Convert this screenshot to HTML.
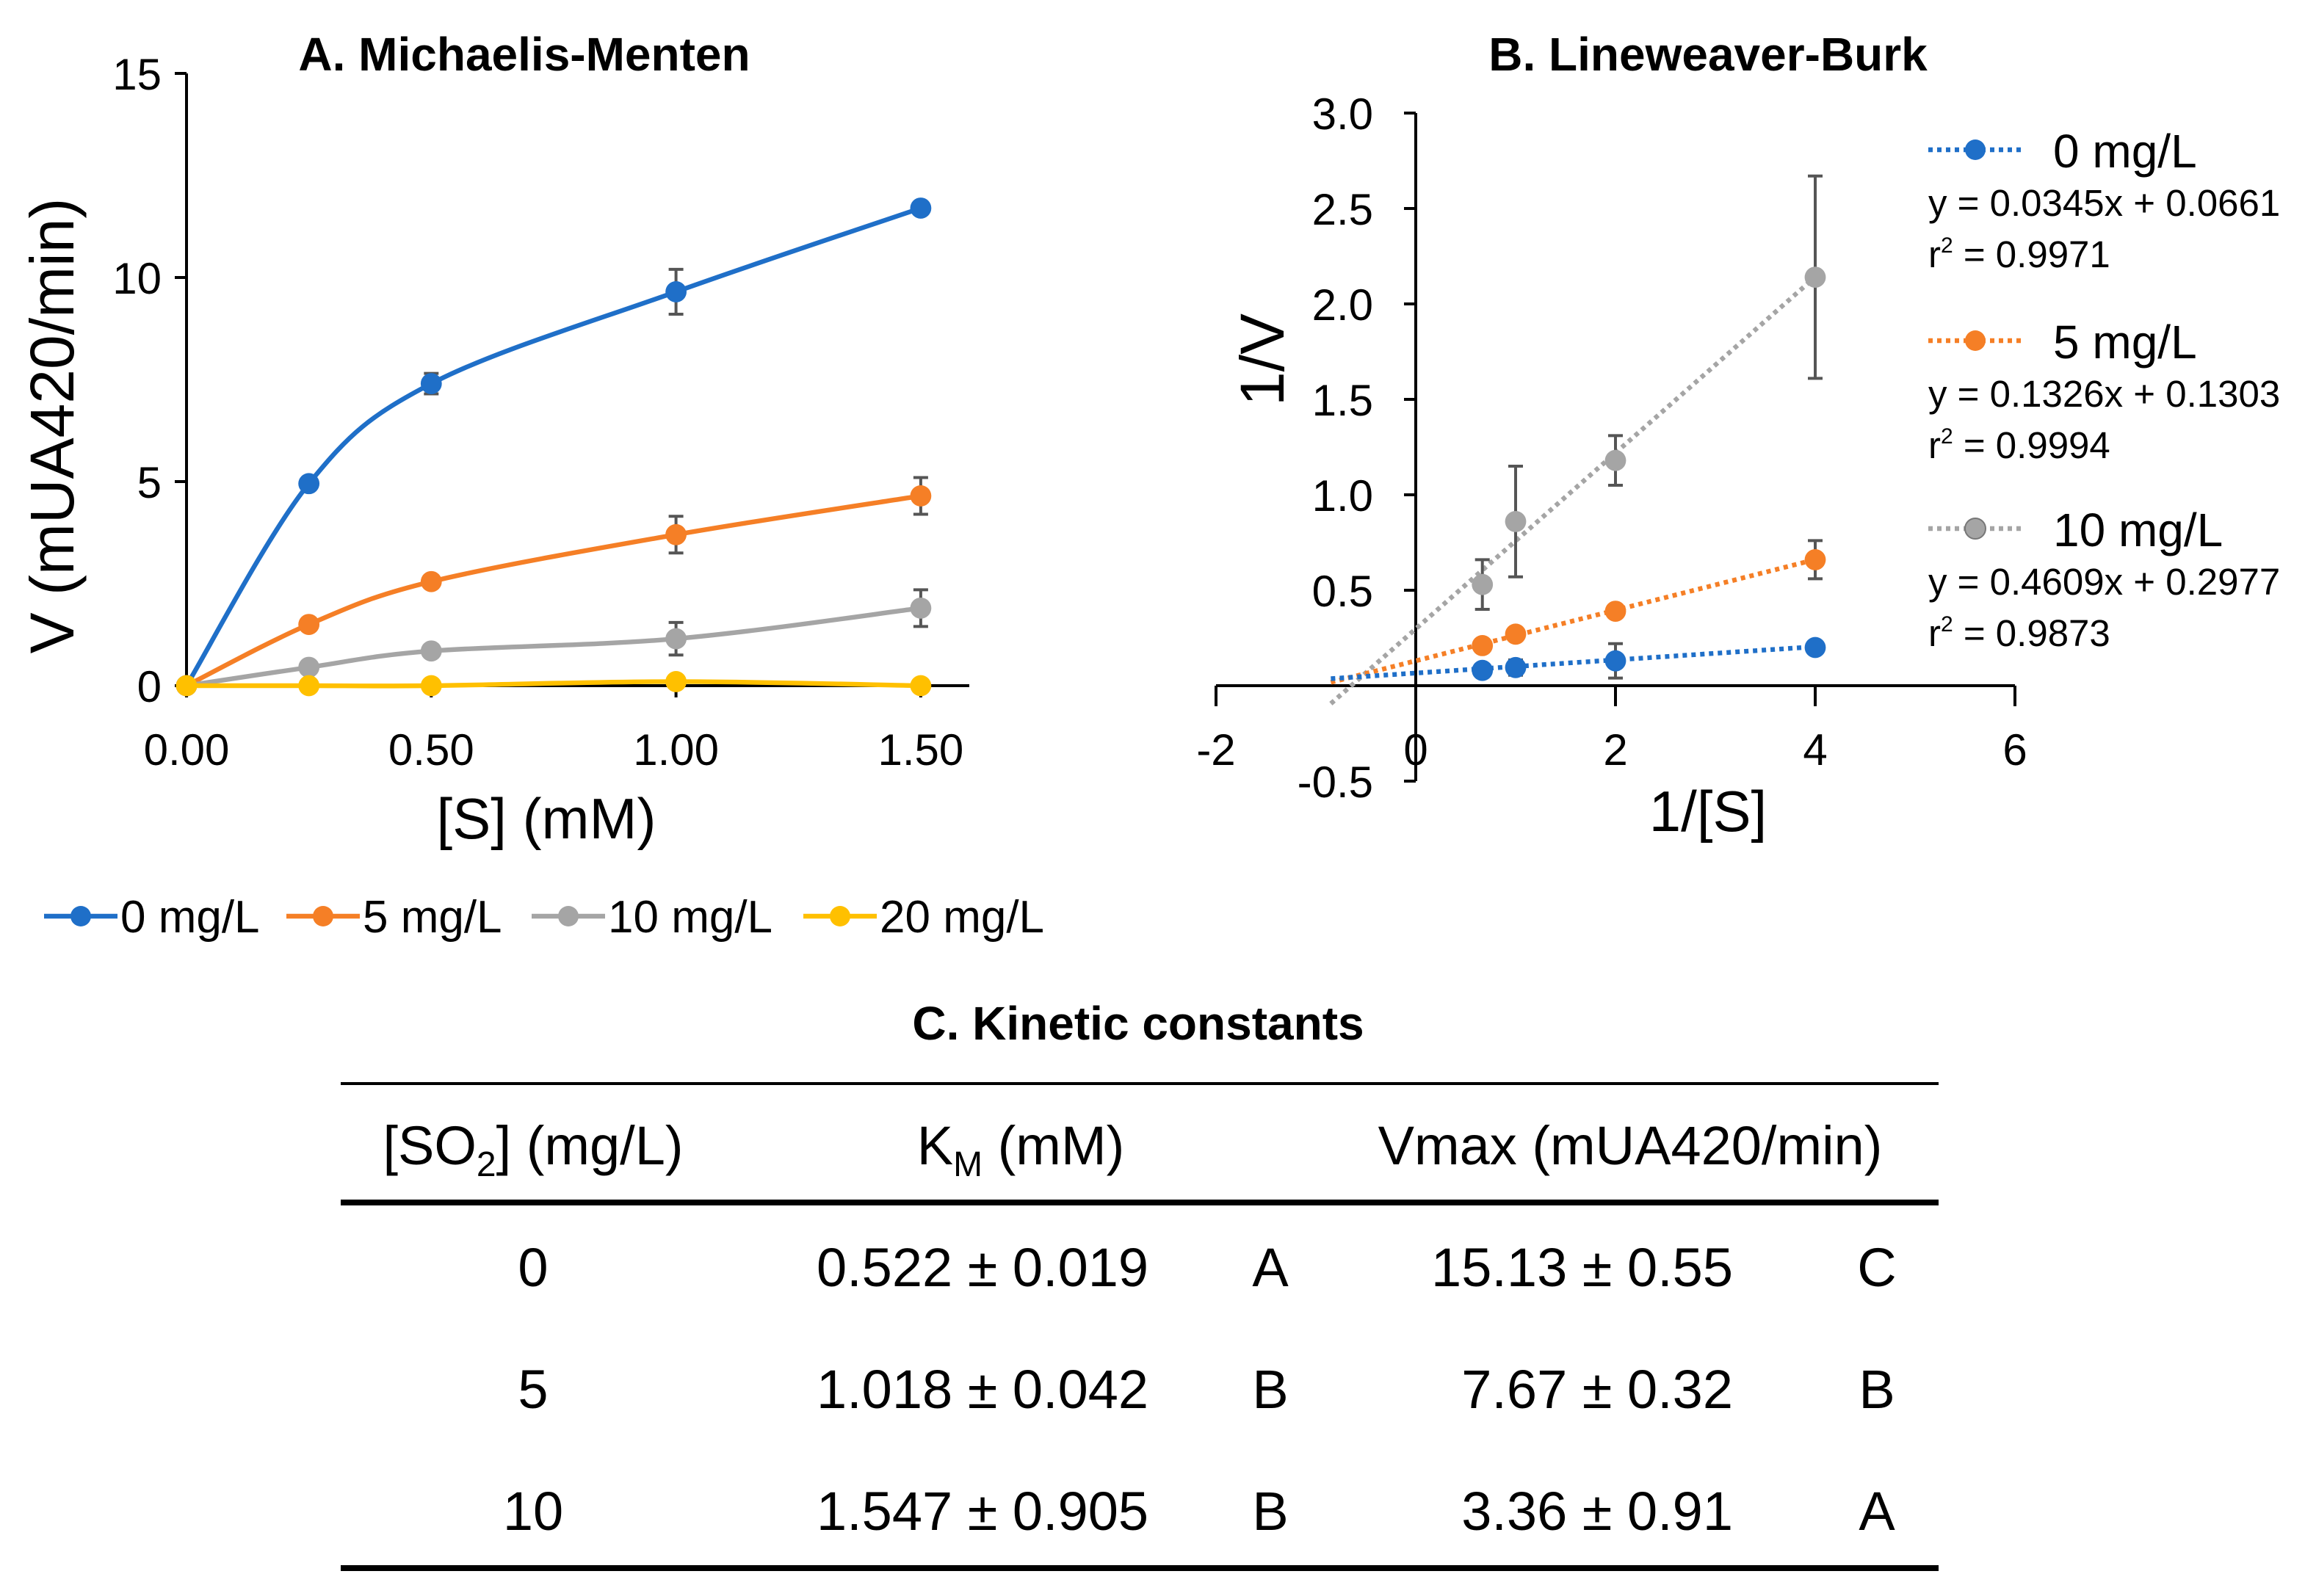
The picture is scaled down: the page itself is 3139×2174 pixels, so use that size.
<!DOCTYPE html>
<html><head><meta charset="utf-8"><style>
html,body{margin:0;padding:0;background:#fff}
svg{display:block}
text{font-family:"Liberation Sans",sans-serif;fill:#000}
</style></head><body>
<svg id="fig" width="3139" height="2174" viewBox="0 0 1569.5 1087" xmlns="http://www.w3.org/2000/svg">
<g id="chartA"></g>
<g id="chartB"></g>
<g id="table">
<text x="775" y="708" font-size="32" font-weight="bold" text-anchor="middle">C. Kinetic constants</text>
<line x1="232" x2="1320" y1="738" y2="738" stroke="#000" stroke-width="2"/>
<line x1="232" x2="1320" y1="819" y2="819" stroke="#000" stroke-width="4"/>
<line x1="232" x2="1320" y1="1068" y2="1068" stroke="#000" stroke-width="4"/>
<g font-size="37">
<text x="363" y="793" text-anchor="middle">[SO<tspan font-size="24" dy="8">2</tspan><tspan dy="-8">] (mg/L)</tspan></text>
<text x="695" y="793" text-anchor="middle">K<tspan font-size="24" dy="8">M</tspan><tspan dy="-8"> (mM)</tspan></text>
<text x="1110" y="793" text-anchor="middle">Vmax (mUA420/min)</text>
<text x="363" y="876" text-anchor="middle">0</text>
<text x="669" y="876" text-anchor="middle">0.522 ± 0.019</text>
<text x="865" y="876" text-anchor="middle">A</text>
<text x="1180" y="876" text-anchor="end">15.13 ± 0.55</text>
<text x="1278" y="876" text-anchor="middle">C</text>
<text x="363" y="959" text-anchor="middle">5</text>
<text x="669" y="959" text-anchor="middle">1.018 ± 0.042</text>
<text x="865" y="959" text-anchor="middle">B</text>
<text x="1180" y="959" text-anchor="end">7.67 ± 0.32</text>
<text x="1278" y="959" text-anchor="middle">B</text>
<text x="363" y="1042" text-anchor="middle">10</text>
<text x="669" y="1042" text-anchor="middle">1.547 ± 0.905</text>
<text x="865" y="1042" text-anchor="middle">B</text>
<text x="1180" y="1042" text-anchor="end">3.36 ± 0.91</text>
<text x="1278" y="1042" text-anchor="middle">A</text>
</g>
</g>
</svg>
<script>
// Chart A data
const aX = [0, 0.25, 0.5, 1.0, 1.5];
const aSeriesNames = ["0 mg/L", "5 mg/L", "10 mg/L", "20 mg/L"];
const aV0 = [0, 4.95, 7.4, 9.65, 11.7];
const aV5 = [0, 1.5, 2.55, 3.7, 4.65];
const aV10 = [0, 0.45, 0.85, 1.15, 1.9];
const aV20 = [0, 0, 0, 0.1, 0];
const aE0 = [0, 0.1, 0.25, 0.55, 0.1];
const aE5 = [0, 0.1, 0.1, 0.45, 0.45];
const aE10 = [0, 0.1, 0.1, 0.4, 0.45];
const aE20 = [0, 0, 0, 0, 0];
const aYTicks = [0, 5, 10, 15];
const aXTicks = [0, 0.5, 1.0, 1.5];
const aXTickLabels = ["0.00", "0.50", "1.00", "1.50"];
// Chart B data
const bX = [0.667, 1, 2, 4];
const bSeriesNames = ["0 mg/L", "5 mg/L", "10 mg/L"];
const bV0 = [0.08, 0.095, 0.13, 0.2];
const bV5 = [0.21, 0.27, 0.39, 0.66];
const bV10 = [0.53, 0.86, 1.18, 2.14];
const bE0 = [0.02, 0.04, 0.09, 0.02];
const bE5 = [0.02, 0.02, 0.02, 0.1];
const bE10 = [0.13, 0.29, 0.13, 0.53];
const bSlopes = [0.0345, 0.1326, 0.4609];
const bIntercepts = [0.0661, 0.1303, 0.2977];
const bEqLabels = ["y = 0.0345x + 0.0661", "y = 0.1326x + 0.1303", "y = 0.4609x + 0.2977"];
const bR2Labels = ["0.9971", "0.9994", "0.9873"];
const bTrendStart = -0.85;
const bYTicks = [-0.5, 0.5, 1.0, 1.5, 2.0, 2.5, 3.0];
const bXTicks = [-2, 0, 2, 4, 6];

const colors = ["#1f6fc8", "#f57f26", "#a5a5a5", "#ffc000"];
const NS = "http://www.w3.org/2000/svg";
function mk(parent, tag, attrs, txt) {
  const e = document.createElementNS(NS, tag);
  for (const k in attrs) e.setAttribute(k, attrs[k]);
  if (txt !== undefined) e.textContent = txt;
  parent.appendChild(e);
  return e;
}
// ---- Chart A ----
const A = document.getElementById("chartA");
const ax = v => 127 + v * 333.3;
const ay = v => 467 - v * 27.8;
let el;
el = mk(A, "text", {x: 357, y: 48, "font-size": 32, "font-weight": "bold", "text-anchor": "middle"}, "A. Michaelis-Menten");


el = mk(A, "line", {x1: 127, x2: 127, y1: ay(15), y2: ay(0), stroke: "#000", "stroke-width": 2});


el = mk(A, "line", {x1: 127, x2: 660, y1: ay(0), y2: ay(0), stroke: "#000", "stroke-width": 2});


aYTicks.forEach(t => {
  el = mk(A, "line", {x1: 119, x2: 127, y1: ay(t), y2: ay(t), stroke: "#000", "stroke-width": 2});
  
  
  el = mk(A, "text", {x: 110, y: ay(t) + 11, "font-size": 30, "text-anchor": "end"}, String(t));
  
  
});
aXTicks.forEach((t, i) => {
  el = mk(A, "line", {x1: ax(t), x2: ax(t), y1: ay(0), y2: ay(0) + 8, stroke: "#000", "stroke-width": 2});
  
  
  el = mk(A, "text", {x: ax(t), y: 521, "font-size": 30, "text-anchor": "middle"}, aXTickLabels[i]);
  
  
});
el = mk(A, "text", {x: 372, y: 571, "font-size": 39, "text-anchor": "middle"}, "[S] (mM)");


el = mk(A, "text", {x: 0, y: 0, "font-size": 42, "text-anchor": "middle", transform: "translate(50,290) rotate(-90)"}, "V (mUA420/min)");



function smoothPath(pts) {
  let d = "M" + pts[0][0] + "," + pts[0][1];
  for (let i = 0; i < pts.length - 1; i++) {
    const p0 = pts[Math.max(0, i - 1)], p1 = pts[i], p2 = pts[i + 1], p3 = pts[Math.min(pts.length - 1, i + 2)];
    const c1 = [p1[0] + (p2[0] - p0[0]) / 6, p1[1] + (p2[1] - p0[1]) / 6];
    const c2 = [p2[0] - (p3[0] - p1[0]) / 6, p2[1] - (p3[1] - p1[1]) / 6];
    d += " C" + c1 + " " + c2 + " " + p2;
  }
  return d;
}
const aVals = [aV0, aV5, aV10, aV20];
const aErrs = [aE0, aE5, aE10, aE20];
aVals.forEach((vals, s) => {
  const g = mk(A, "g", {});
  
  
  const pts = aX.map((x, i) => [ax(x), ay(vals[i])]);
  el = mk(g, "path", {d: smoothPath(pts), fill: "none", stroke: colors[s], "stroke-width": 3.2});
  
  
  aX.forEach((x, i) => {
    const e = aErrs[s][i];
    if (e > 0.05) {
      el = mk(g, "path", {d: `M${ax(x)},${ay(vals[i] - e)}V${ay(vals[i] + e)}M${ax(x) - 5},${ay(vals[i] - e)}h10M${ax(x) - 5},${ay(vals[i] + e)}h10`, stroke: "#555", "stroke-width": 2, fill: "none"});
      
      
    }
    el = mk(g, "circle", {cx: ax(x), cy: ay(vals[i]), r: 7.2, fill: colors[s]});
    
    
  });
});
const legX = [30, 195, 362, 547];
aSeriesNames.forEach((n, s) => {
  const g = mk(A, "g", {});
  
  
  mk(g, "line", {x1: legX[s], x2: legX[s] + 50, y1: 624, y2: 624, stroke: colors[s], "stroke-width": 3.2});
  mk(g, "circle", {cx: legX[s] + 25, cy: 624, r: 7, fill: colors[s]});
  mk(g, "text", {x: legX[s] + 52, y: 635, "font-size": 31}, n);
});

// ---- Chart B ----
const B = document.getElementById("chartB");
const bx = v => 964 + v * 68;
const by = v => 467 - v * 130;
el = mk(B, "text", {x: 1163, y: 48, "font-size": 32, "font-weight": "bold", "text-anchor": "middle"}, "B. Lineweaver-Burk");


el = mk(B, "line", {x1: 964, x2: 964, y1: by(3), y2: by(-0.5), stroke: "#000", "stroke-width": 2});


el = mk(B, "line", {x1: bx(-2), x2: bx(6), y1: by(0), y2: by(0), stroke: "#000", "stroke-width": 2});


bYTicks.forEach(t => {
  el = mk(B, "line", {x1: 956, x2: 964, y1: by(t), y2: by(t), stroke: "#000", "stroke-width": 2});
  
  
  el = mk(B, "text", {x: 935, y: by(t) + 11, "font-size": 30, "text-anchor": "end"}, t.toFixed(1));
  
  
});
bXTicks.forEach(t => {
  el = mk(B, "line", {x1: bx(t), x2: bx(t), y1: by(0), y2: by(0) + 14, stroke: "#000", "stroke-width": 2});
  
  
  el = mk(B, "text", {x: bx(t), y: 521, "font-size": 30, "text-anchor": "middle"}, String(t));
  
  
});
el = mk(B, "text", {x: 1163, y: 566, "font-size": 39, "text-anchor": "middle"}, "1/[S]");


el = mk(B, "text", {x: 0, y: 0, "font-size": 42, "text-anchor": "middle", transform: "translate(874,245) rotate(-90)"}, "1/V");


const bVals = [bV0, bV5, bV10];
const bErrs = [bE0, bE5, bE10];
const drawOrder = [2, 1, 0];
drawOrder.forEach(s => {
  const vals = bVals[s];
  const g = mk(B, "g", {});
  
  
  const x2 = bX[bX.length - 1];
  el = mk(g, "line", {x1: bx(bTrendStart), y1: by(bSlopes[s] * bTrendStart + bIntercepts[s]), x2: bx(x2), y2: by(bSlopes[s] * x2 + bIntercepts[s]), stroke: colors[s], "stroke-width": 3.2, "stroke-dasharray": "3 3"});
  
  
  bX.forEach((x, i) => {
    const e = bErrs[s][i];
    if (e > 0.03) {
      el = mk(g, "path", {d: `M${bx(x)},${by(vals[i] - e)}V${by(vals[i] + e)}M${bx(x) - 5},${by(vals[i] - e)}h10M${bx(x) - 5},${by(vals[i] + e)}h10`, stroke: "#555", "stroke-width": 2, fill: "none"});
      
      
    }
    el = mk(g, "circle", {cx: bx(x), cy: by(vals[i]), r: 7.2, fill: colors[s]});
    
    
  });
});
const legY = [102, 232, 360];
bSeriesNames.forEach((n, s) => {
  const g = mk(B, "g", {});
  
  
  const y = legY[s];
  mk(g, "line", {x1: 1313, x2: 1378, y1: y, y2: y, stroke: colors[s], "stroke-width": 3.2, "stroke-dasharray": "3 3"});
  mk(g, "circle", {cx: 1345, cy: y, r: 7, fill: colors[s], stroke: s === 2 ? "#777" : "none", "stroke-width": 1});
  mk(g, "text", {x: 1398, y: y + 12, "font-size": 32}, n);
  mk(g, "text", {x: 1313, y: y + 45, "font-size": 25.5}, bEqLabels[s]);
  const r = mk(g, "text", {x: 1313, y: y + 80, "font-size": 25.5}, "r");
  mk(r, "tspan", {"font-size": 15, dy: -10}, "2");
  mk(r, "tspan", {dy: 10}, " = " + bR2Labels[s]);
});
</script>
</body></html>
